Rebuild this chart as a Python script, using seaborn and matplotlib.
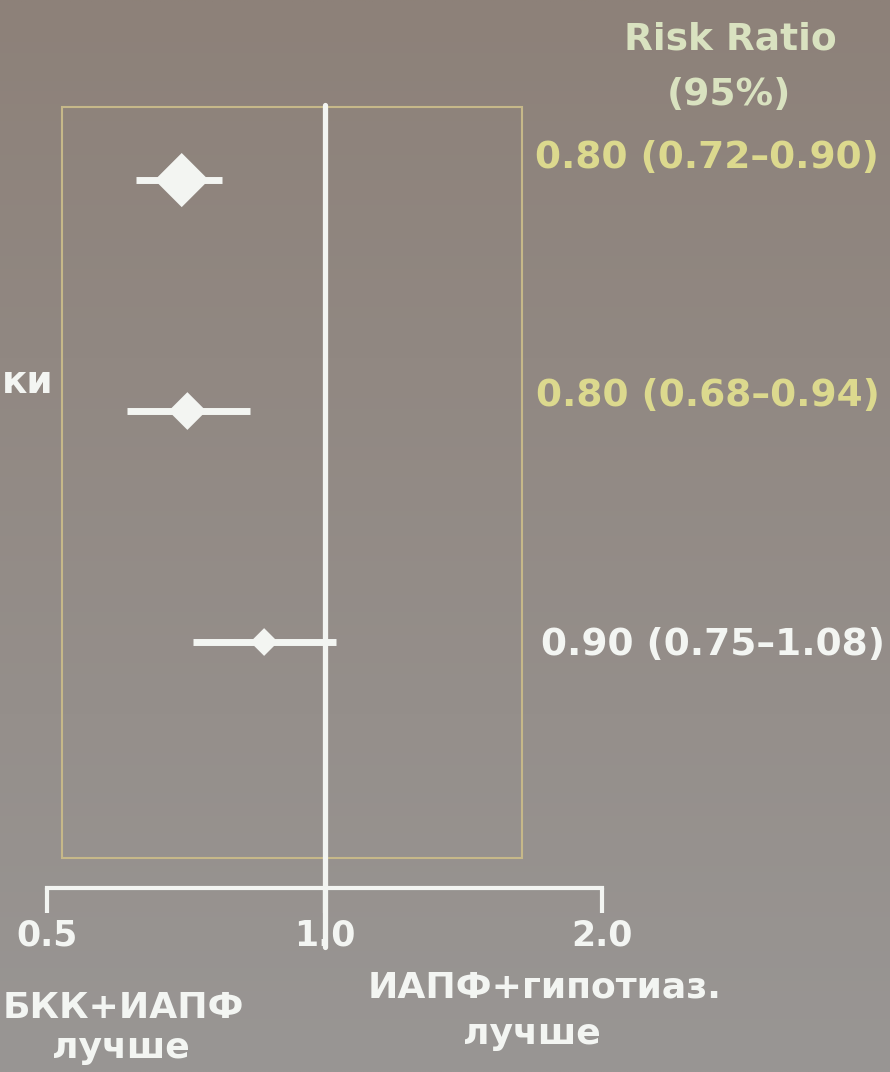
import numpy as np
import pandas as pd
import matplotlib.pyplot as plt
import matplotlib.patches as mpatches
from matplotlib.ticker import NullLocator
import seaborn as sns

# ── data (positions of the diamonds / CIs as drawn on the slide) ──
rows      = ["row1", "row2", "row3"]
rr_plot   = [0.70, 0.71, 0.86]
ci_lo     = [0.625, 0.61, 0.72]
ci_hi     = [0.775, 0.83, 1.03]
rr_text   = ["0.80 (0.72–0.90)", "0.80 (0.68–0.94)", "0.90 (0.75–1.08)"]
x_ticks   = [0.5, 1.0, 2.0]
x_labels  = ["0.5", "1.0", "2.0"]
header    = ["Risk Ratio", "(95%)"]
left_txt  = ["БКК+ИАПФ", "лучше"]
right_txt = ["ИАПФ+гипотиаз.", "лучше"]
row_label = "ки"

W, H = 890, 1072
WHITE  = "#f3f5f2"
YELLOW = "#dcd98e"
HEAD   = "#d9e2c0"
BOX    = "#c6b889"

sns.set_theme(style="white")
plt.rcParams["font.family"] = ["DejaVu Sans"]
plt.rcParams["font.weight"] = "bold"

fig = plt.figure(figsize=(W / 100, H / 100), dpi=100)

# ── slide background (photo-like gradient) ─────────────────
bg = fig.add_axes([0, 0, 1, 1], zorder=-5)
top = np.array([141, 129, 121]) / 255
bot = np.array([153, 150, 148]) / 255
t = np.linspace(0, 1, 256)[:, None]
grad = top[None, :] * (1 - t) + bot[None, :] * t
bg.imshow(np.repeat(grad[:, None, :], 4, axis=1), aspect="auto",
          extent=[0, 1, 0, 1], interpolation="bilinear")
bg.axis("off")


def px(x, y):
    return x / W, 1 - y / H


# ── forest plot ────────────────────────────────────────────
x0, x1, y0, y1 = 47, 602, 105, 888
ax = fig.add_axes([x0 / W, 1 - y1 / H, (x1 - x0) / W, (y1 - y0) / H])
ax.set_facecolor("none")

df = pd.DataFrame({"row": range(len(rows)), "name": rows,
                   "rr": rr_plot, "lo": ci_lo, "hi": ci_hi})

ax.hlines(df["row"], df["lo"], df["hi"], color=WHITE, lw=5, zorder=3)
sns.scatterplot(data=df, x="rr", y="row", size="name",
                sizes={"row1": 760, "row2": 370, "row3": 200},
                marker="D", color=WHITE, edgecolor=WHITE, linewidth=0,
                legend=False, ax=ax, zorder=4)

ax.set_xscale("log", base=2)
ax.set_xlim(0.5, 2.0)
ax.set_ylim(3.065, -0.325)
ax.set_xticks(x_ticks)
ax.set_xticklabels(x_labels)
ax.xaxis.set_minor_locator(NullLocator())
ax.set_yticks([])
ax.set_xlabel("")
ax.set_ylabel("")

ax.axvline(1.0, ymin=-0.075, ymax=1.0, color=WHITE, lw=3.8,
           clip_on=False, zorder=2)

bx0, bx1 = (62 - x0) / (x1 - x0), (522 - x0) / (x1 - x0)
by0, by1 = (y1 - 858) / (y1 - y0), (y1 - 107) / (y1 - y0)
ax.add_patch(mpatches.Rectangle((bx0, by0), bx1 - bx0, by1 - by0,
                                transform=ax.transAxes, fill=False,
                                ec=BOX, lw=1.5, zorder=1))

for s in ["top", "right", "left"]:
    ax.spines[s].set_visible(False)
ax.spines["bottom"].set_color(WHITE)
ax.spines["bottom"].set_linewidth(3)
ax.tick_params(axis="x", which="major", bottom=True, direction="out",
               length=18, width=3, color=WHITE, pad=3.6, labelsize=25,
               labelcolor=WHITE)
for lbl in ax.get_xticklabels():
    lbl.set_fontweight("bold")

# ── texts ──────────────────────────────────────────────────
fig.text(*px(730, 50), header[0], color=HEAD, fontsize=27,
         ha="center", va="baseline")
fig.text(*px(729, 105), header[1], color=HEAD, fontsize=27,
         ha="center", va="baseline")

for (x, y), txt, col in zip([(707, 168), (708, 406), (713, 655)],
                            rr_text, [YELLOW, YELLOW, WHITE]):
    fig.text(*px(x, y), txt, color=col, fontsize=27,
             ha="center", va="baseline")

fig.text(*px(2, 393), row_label, color=WHITE, fontsize=27,
         ha="left", va="baseline")

fig.text(*px(123, 1018), left_txt[0], color=WHITE, fontsize=26,
         ha="center", va="baseline")
fig.text(*px(121, 1058), left_txt[1], color=WHITE, fontsize=26,
         ha="center", va="baseline")
fig.text(*px(545, 997), right_txt[0], color=WHITE, fontsize=26,
         ha="center", va="baseline")
fig.text(*px(532, 1044), right_txt[1], color=WHITE, fontsize=26,
         ha="center", va="baseline")

plt.savefig("out.png", dpi=100)
plt.close()
